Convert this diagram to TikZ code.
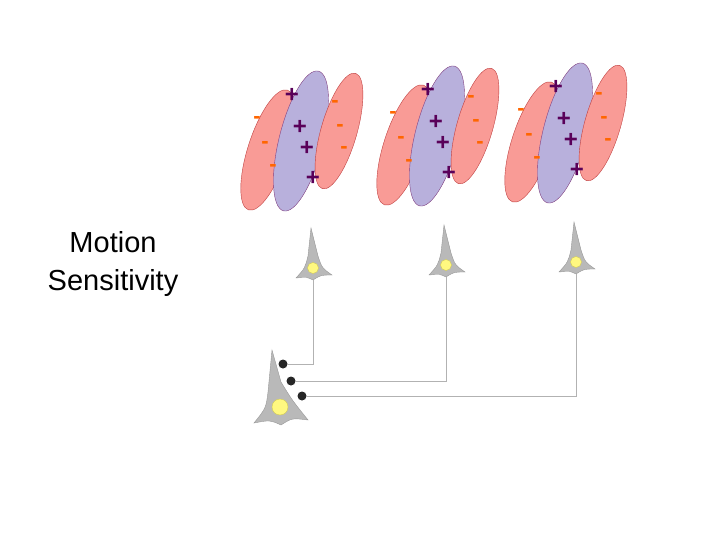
\documentclass[tikz,border=0pt]{standalone}
\usepackage{fontspec}
\setmainfont{Liberation Sans}
\definecolor{lav}{HTML}{B8B0DC}
\definecolor{pinkr}{HTML}{F99B96}
\begin{document}
\begin{tikzpicture}[x=1pt,y=-1pt,
  negell/.style={fill=pinkr,draw=red!50!gray,line width=0.4pt},
  posell/.style={fill=lav,draw=violet!50!gray,line width=0.4pt},
  mn/.style={text=orange!80!red,font=\bfseries\fontsize{22}{22}\selectfont,inner sep=0pt},
  pl/.style={text=violet!70!black,font=\bfseries\fontsize{24}{24}\selectfont,inner sep=0pt},
  cell/.style={fill=gray!55,draw=gray!80,line width=0.4pt},
  nuc/.style={fill=yellow!50,draw=yellow!60!gray,line width=0.4pt},
  wire/.style={draw=gray!60,line width=0.6pt},
  syn/.style={circle,fill=black!85,inner sep=0pt,minimum size=9pt}]
\useasboundingbox (0,0) rectangle (720,540);
\node[font=\fontsize{29}{38}\selectfont,align=center] (lbl) at (113,264) {Motion\\Sensitivity};
\foreach \dx/\dy/\g in {0/0/a,136/-5/b,264/-8/c}{
 \begin{scope}[shift={(\dx,\dy)}]
  \draw[negell,rotate around={-18:(268,150)}] (268,150) ellipse [x radius=20,y radius=63];
  \draw[posell,rotate around={-14:(301,141)}] (301,141) ellipse [x radius=22,y radius=72];
  \draw[negell,rotate around={-16:(339,131)}] (339,131) ellipse [x radius=18,y radius=60];
  \foreach \p in {(257,120),(265,145),(273,168),(335,104),(340,128),(344,150)} \node[mn] at \p {-};
  \foreach \p in {(292,95),(300,127),(307,148),(313,178)} \node[pl] at \p {+};
 \end{scope}}
% small neurons
\foreach \x/\y/\n in {311/228/n1,444/225/n2,574/222/n3}{
 \draw[cell] (\x,\y) -- (\x+7,\y+28) .. controls (\x+11,\y+40) .. (\x+21,\y+47) .. controls (\x+10,\y+47) .. (\x+2,\y+52) .. controls (\x-4,\y+49) .. (\x-15,\y+50) .. controls (\x-6,\y+40) .. (\x-3,\y+28) -- cycle;
 \draw[nuc] (\x+2,\y+40) circle (5.5);
 \coordinate (\n) at (\x+2,\y+52);}
% big neuron
\draw[cell] (272,350) -- (281,382) .. controls (292,400) .. (308,420) .. controls (292,418) .. (281,425) .. controls (270,420) .. (254,423) .. controls (266,408) .. (268,392) -- cycle;
\draw[nuc] (280,407) circle (8);
\node[syn] (s1) at (283,364) {};
\node[syn] (s2) at (291,381) {};
\node[syn] (s3) at (302,396) {};
\draw[wire] (n1) |- (s1);
\draw[wire] (n2) |- (s2);
\draw[wire] (n3) |- (s3);
\end{tikzpicture}
\end{document}
